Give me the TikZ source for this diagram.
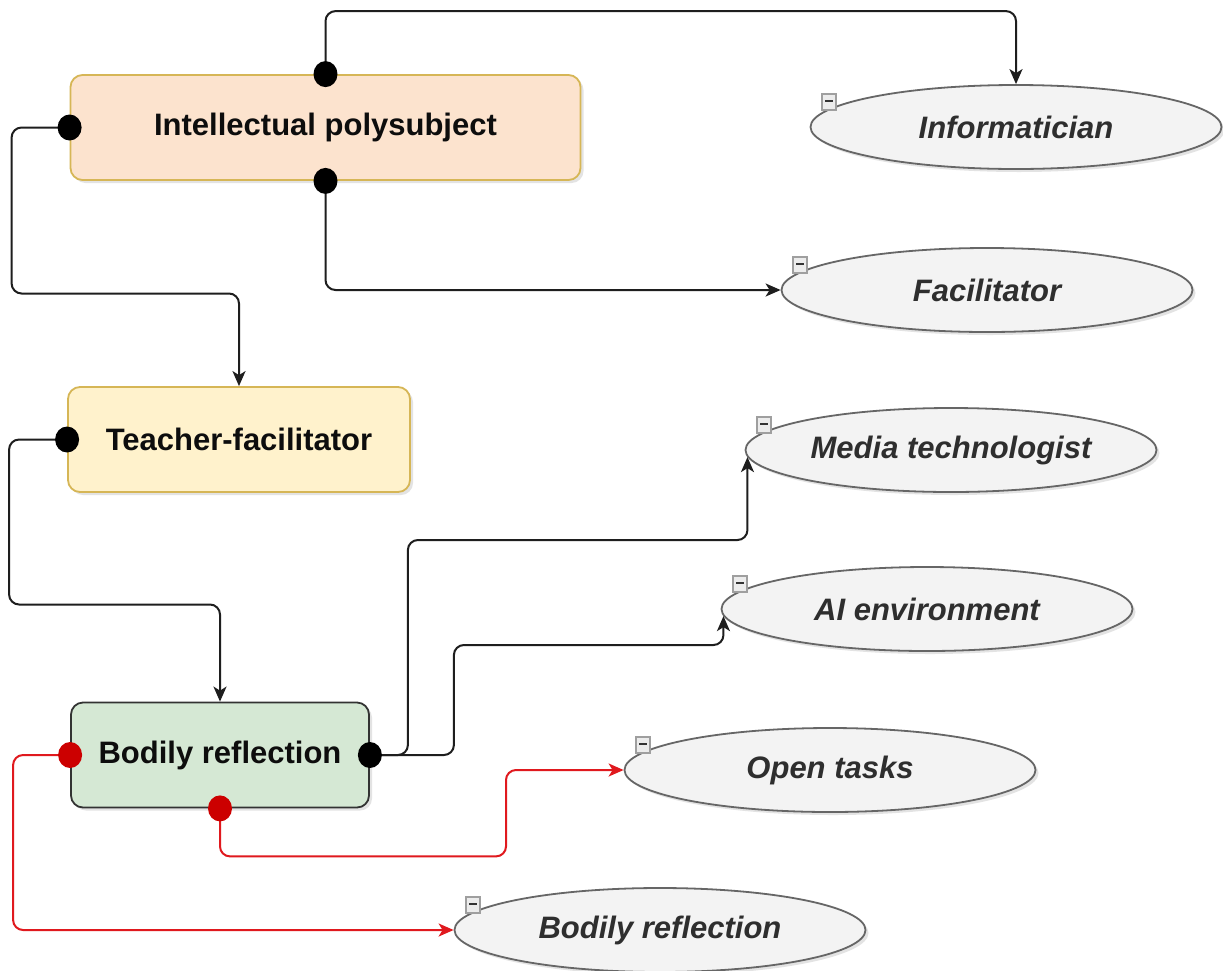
\documentclass[tikz,border=0pt]{standalone}
\usepackage{fontspec}
\setmainfont{Liberation Sans}
\usetikzlibrary{arrows.meta,shadows,calc,shapes.geometric}
\definecolor{peachfill}{HTML}{FCE3CE}
\definecolor{yellowfill}{HTML}{FFF2CC}
\definecolor{greenfill}{HTML}{D5E8D4}
\definecolor{goldline}{HTML}{D6B656}
\definecolor{greenline}{HTML}{333333}
\definecolor{ellfill}{HTML}{F3F3F3}
\definecolor{ellline}{HTML}{666666}
\definecolor{ellText}{HTML}{2E2E2E}
\definecolor{conred}{HTML}{E0191E}
\definecolor{dotred}{HTML}{CC0000}
\definecolor{conblack}{HTML}{1E1E1E}
\tikzset{
  boxnode/.style={rectangle, rounded corners=12pt, line width=1.8pt, inner sep=0pt,
    minimum height=105pt, font=\fontsize{31}{37}\selectfont\bfseries, text=black!95,
    drop shadow={opacity=0.22, shadow xshift=3pt, shadow yshift=-3pt}},
  rolenode/.style={ellipse, fill=ellfill, draw=ellline, line width=1.8pt, inner sep=0pt,
    minimum width=411pt, minimum height=84pt,
    font=\fontsize{31}{37}\selectfont\bfseries\itshape, text=ellText,
    drop shadow={opacity=0.22, shadow xshift=3pt, shadow yshift=-3pt}},
  conn/.style={draw=conblack, line width=2pt, rounded corners=10pt,
    -{Stealth[length=15pt, width=13pt, inset=4pt]}},
  redconn/.style={conn, draw=conred, -{Stealth[length=15pt, width=13pt, inset=4pt, fill=conred]}, color=conred},
  minusicon/.style={draw=gray!75, fill=gray!15, line width=1.2pt},
}
\begin{document}
\begin{tikzpicture}[x=1pt,y=-1pt]
\useasboundingbox[fill=white] (0,0) rectangle (1223,970);

% boxes
\node[boxnode, fill=peachfill, draw=goldline, minimum width=510pt] (ip) at (325.5,127.5) {Intellectual polysubject};
\node[boxnode, fill=yellowfill, draw=goldline, minimum width=342pt] (tf) at (239,439.5) {Teacher-facilitator};
\node[boxnode, fill=greenfill, draw=greenline, minimum width=298pt] (br) at (220,755) {Bodily reflection};

% role ellipses
\node[rolenode] (inf) at (1016,127) {Informatician};
\node[rolenode] (fac) at (987,290) {Facilitator};
\node[rolenode] (med) at (951,450) {Media technologist};
\node[rolenode] (ai)  at (927,609) {AI environment};
\node[rolenode] (ot)  at (830,770) {Open tasks};
\node[rolenode] (bre) at (660,930) {Bodily reflection};

% minus icons
\foreach \n in {inf,fac,med,ai,ot,bre}{
  \draw[minusicon] ($(\n.center)+(-194,-33)$) rectangle ++(14,16);
  \draw[black!80, line width=1.8pt] ($(\n.center)+(-191,-26)$) -- ++(8,0);
}

% connectors
\draw[conn] (ip.north) -- ++(0,-63) -| (inf.north);
\draw[conn] (ip.south) |- (fac.west);
\draw[conn] (ip.west) -| ++(-58,166) -| (tf.north);
\draw[conn] (tf.west) -| ++(-58,165) -| (br.north);
\draw[conn] (br.east) -| ++(38,-215) -| (med.182);
\draw[conn] (br.east) -| ++(84,-110) -| (ai.182);
\draw[redconn] (br.south) |- ++(286,48) |- (ot.west);
\draw[redconn] (br.west) -| ++(-57,175) -- (bre.west);

% connection dots
\fill[black] (ip.north) ellipse [x radius=12pt, y radius=13pt];
\fill[black] (ip.south) ellipse [x radius=12pt, y radius=13pt];
\fill[black] (ip.west) ellipse [x radius=12pt, y radius=13pt];
\fill[black] (tf.west) ellipse [x radius=12pt, y radius=13pt];
\fill[black] (br.east) ellipse [x radius=12pt, y radius=13pt];
\fill[dotred] (br.west) ellipse [x radius=12pt, y radius=13pt];
\fill[dotred] (br.south) ellipse [x radius=12pt, y radius=13pt];
\end{tikzpicture}
\end{document}
